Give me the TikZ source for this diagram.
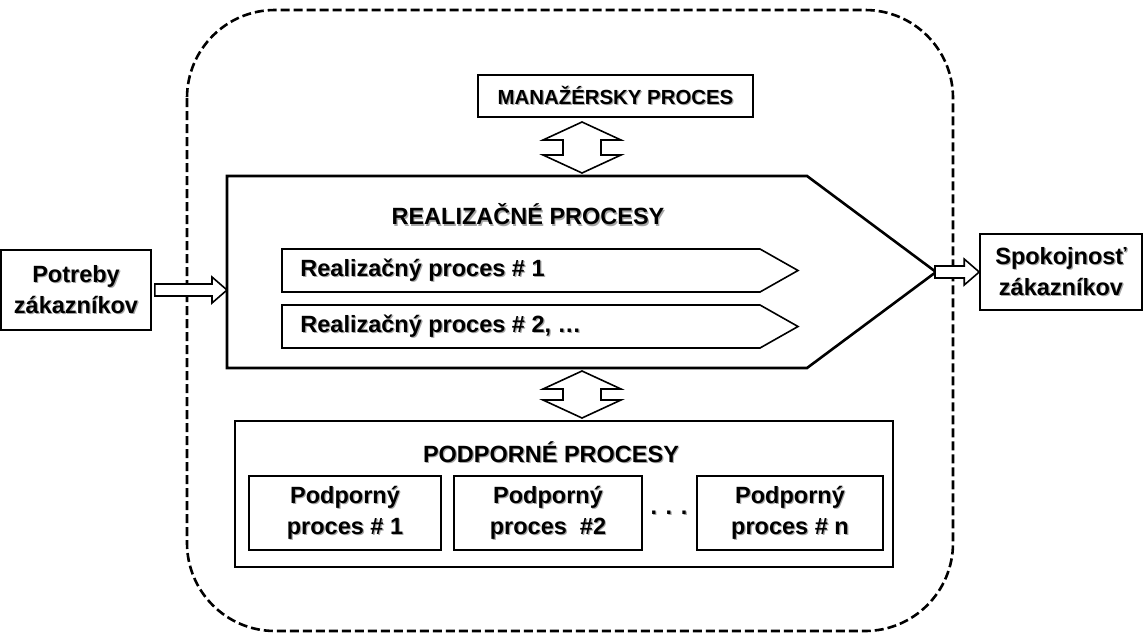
\documentclass[tikz,border=0pt]{standalone}
\usepackage{fontspec}
\setmainfont{Liberation Sans}
\usetikzlibrary{calc}

% text with a light drop shadow
\newcommand\sh[1]{\leavevmode\rlap{\kern0.6pt\raisebox{-0.6pt}{\textcolor{black!35}{#1}}}#1}
% hollow block arrows between two named points
\newcommand\dblarrow[2]{%
  \draw[hollow] (#1) -- ++(39,18) -- ++(-20,0) -- ($(#2)+(19,-18)$) -- ++(20,0) -- (#2)
    -- ++(-39,-18) -- ++(20,0) -- ($(#1)+(-19,18)$) -- ++(-20,0) -- cycle;}
\newcommand\flowarrow[2]{%
  \draw[hollow] ($(#1)+(0,-6)$) -- ($(#2)+(-15,-6)$) -- ++(0,-7) -- (#2)
    -- ++(-15,13) -- ++(0,-7) -- ($(#1)+(0,6)$) -- cycle;}

\begin{document}
\begin{tikzpicture}[x=0.5pt,y=-0.5pt,
  every node/.style={font=\bfseries\fontsize{11.75}{15.5}\selectfont, inner sep=0pt},
  box/.style={draw, line width=0.8pt, align=center},
  hollow/.style={draw, line width=0.8pt, fill=white, line join=miter},
  pent/.style={draw, line width=0.8pt, line join=miter}]
\useasboundingbox (0,0) rectangle (1144,632);

% organisation boundary
\draw[line width=1.3pt, dash pattern=on 4.5pt off 2pt, rounded corners=44pt] (187,10) rectangle (953,631);

\node[box, line width=0.7pt, minimum width=137.5pt, minimum height=21pt,
  font=\bfseries\fontsize{10.2}{12}\selectfont] (mgr) at (615.5,96) {\sh{MANAŽÉRSKY PROCES}};

% realization processes
\draw[pent, line width=1.3pt] (227,176) coordinate (rleft) -- (807,176) -- (936,272) coordinate (rtip)
  -- (807,368) -- (227,368) -- cycle;
\node (realt) at (528,215) {\sh{REALIZAČNÉ PROCESY}};
\draw[pent] (282,249) -- (760,249) -- (798,270.5) -- (760,292) -- (282,292) -- cycle;
\draw[pent] (282,305) -- (760,305) -- (798,326.5) -- (760,348) -- (282,348) -- cycle;
\node[anchor=west] (r1) at (300,271) {\sh{Realizačný proces \# 1}};
\node[anchor=west] (r2) at (300,327) {\sh{Realizačný proces \# 2, …}};

% support processes
\node[box, line width=0.7pt, minimum width=329pt, minimum height=73pt] (pod) at (564,494) {};
\node (podt) at (551,453) {\sh{PODPORNÉ PROCESY}};
\node[box, minimum width=96pt, minimum height=37pt] (p1) at (345,513) {\sh{Podporný}\\\sh{proces \# 1}};
\node[box, minimum width=94pt, minimum height=37pt] (p2) at (548,513) {\sh{Podporný}\\\sh{proces~~\#2}};
\node[box, minimum width=93pt, minimum height=37pt] (p3) at (790,513) {\sh{Podporný}\\\sh{proces \# n}};
\node (dots) at (669,513) {\sh{. . .}};

% customers
\node[box, minimum width=75pt, minimum height=40pt] (in) at (76,290) {\sh{Potreby}\\\sh{zákazníkov}};
\node[box, minimum width=81pt, minimum height=38pt] (out) at (1061,272) {\sh{Spokojnosť}\\\sh{zákazníkov}};

\coordinate (ua) at (582,122);
\coordinate (ub) at (582,173);
\coordinate (la) at (582,371);
\coordinate (lb) at (582,418);
\dblarrow{ua}{ub}
\dblarrow{la}{lb}

\coordinate (ia) at ($(in.east)+(3,0)$);
\coordinate (ib) at (in.east -| rleft);
\flowarrow{ia}{ib}
\coordinate (oa) at ($(rtip)+(-1,0)$);
\flowarrow{oa}{out.west}
\end{tikzpicture}
\end{document}
